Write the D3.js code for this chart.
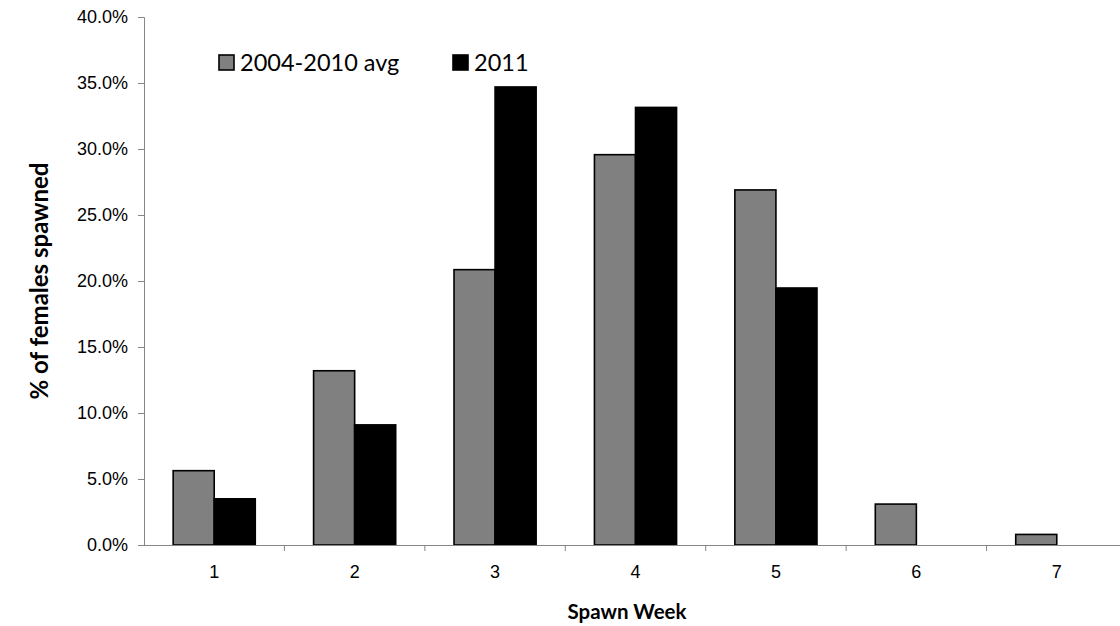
<!DOCTYPE html>
<html>
<head>
<meta charset="utf-8">
<script src="https://cdn.jsdelivr.net/npm/d3@7"></script>
<style>
  body { margin: 0; background: #fff; }
  svg { display: block; }
</style>
</head>
<body>
<div id="chart"></div>
<script>
const width = 1120;
const height = 626;

// data
const weeks = ["1", "2", "3", "4", "5", "6", "7"];
const seriesNames = ["2004-2010 avg", "2011"];
const avgValues = [0.0563, 0.132, 0.2086, 0.2957, 0.269, 0.031, 0.008];
const y2011Values = [0.035, 0.091, 0.347, 0.3315, 0.1947, 0, 0];
const yTicks = [0, 0.05, 0.1, 0.15, 0.2, 0.25, 0.3, 0.35, 0.4];
const colors = ["#808080", "#000000"];

const plot = {left: 144, right: 1127, top: 17, bottom: 545};

const svg = d3.select("#chart")
    .append("svg")
    .attr("width", width)
    .attr("height", height);

// scales
const x0 = d3.scaleBand()
    .domain(weeks)
    .range([plot.left, plot.right]);
const x1 = d3.scaleBand()
    .domain(seriesNames)
    .range([0, x0.bandwidth()])
    .paddingOuter(0.71);
const y = d3.scaleLinear()
    .domain([0, 0.4])
    .range([plot.bottom, plot.top]);

const rows = weeks.map((w, i) => ({
    week: w,
    values: [avgValues[i], y2011Values[i]]
}));

// bars
const groups = svg.append("g")
    .selectAll("g")
    .data(rows)
    .join("g")
    .attr("transform", d => `translate(${x0(d.week)},0)`);

groups.selectAll("rect")
    .data(d => d.values.map((v, j) => ({name: seriesNames[j], value: v, j: j})).filter(d => d.value > 0))
    .join("rect")
    .attr("x", d => x1(d.name))
    .attr("width", x1.bandwidth())
    .attr("y", d => y(d.value))
    .attr("height", d => y(0) - y(d.value))
    .attr("fill", d => colors[d.j])
    .attr("stroke", "#000")
    .attr("stroke-width", 1.6);

// y axis
const yAxis = svg.append("g")
    .attr("transform", `translate(${plot.left},0)`)
    .call(d3.axisLeft(y).tickValues(yTicks).tickFormat(d3.format(".1%")).tickSizeOuter(0).tickSize(6).tickPadding(10));

// x axis
const xAxis = svg.append("g")
    .attr("transform", `translate(0,${plot.bottom})`)
    .call(d3.axisBottom(x0).tickSize(0).tickPadding(20));

// tick marks between categories
xAxis.selectAll(".sep")
    .data(weeks.slice(1))
    .join("line")
    .attr("class", "sep")
    .attr("x1", d => x0(d))
    .attr("x2", d => x0(d))
    .attr("y1", 0)
    .attr("y2", 6)
    .attr("stroke", "#868686");

[yAxis, xAxis].forEach(a => {
    a.select(".domain").attr("stroke", "#868686");
    a.selectAll(".tick line").attr("stroke", "#868686");
    a.selectAll("text")
        .attr("fill", "#000")
        .style("font-family", "'Liberation Sans', Arial, sans-serif")
        .style("font-size", "18px");
});
xAxis.select(".domain").attr("d", `M${plot.left},0.5H${plot.right}`);

// axis titles
svg.append("text")
    .attr("x", 627)
    .attr("y", 619)
    .attr("text-anchor", "middle")
    .style("font-family", "Lato, 'Open Sans', sans-serif")
    .style("font-weight", "bold")
    .style("font-size", "20.5px")
    .text("Spawn Week");

svg.append("text")
    .attr("transform", `translate(48,${(plot.top + plot.bottom) / 2}) rotate(-90)`)
    .attr("text-anchor", "middle")
    .style("font-family", "Lato, 'Open Sans', sans-serif")
    .style("font-weight", "bold")
    .style("font-size", "24px")
    .text("% of females spawned");

// legend
const legendX = [219, 453];
const legend = svg.append("g")
    .selectAll("g")
    .data(seriesNames)
    .join("g")
    .attr("transform", (d, i) => `translate(${legendX[i]},55)`);

legend.append("rect")
    .attr("width", 15)
    .attr("height", 15)
    .attr("fill", (d, i) => colors[i])
    .attr("stroke", "#000")
    .attr("stroke-width", 1.6);

legend.append("text")
    .attr("x", 21)
    .attr("y", 16)
    .style("font-family", "Lato, 'Open Sans', sans-serif")
    .style("font-size", "23.5px")
    .text(d => d);
</script>
</body>
</html>
